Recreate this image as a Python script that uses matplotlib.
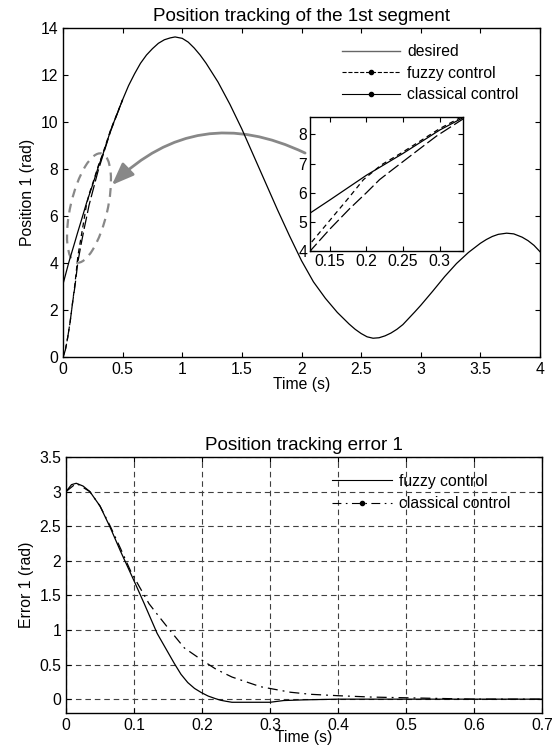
import matplotlib
matplotlib.use("Agg")
import matplotlib.pyplot as plt
from matplotlib.patches import Ellipse, FancyArrowPatch
from matplotlib.lines import Line2D
from matplotlib.transforms import IdentityTransform

plt.rcParams['font.family'] = ['Liberation Sans', 'DejaVu Sans']
plt.rcParams['font.size'] = 11.3

# desired trajectory of segment 1
t_des = [0, 0.05, 0.1, 0.123, 0.15, 0.2, 0.25, 0.3, 0.33, 0.4, 0.5, 0.55, 0.6, 0.65,
         0.7, 0.75, 0.8, 0.85, 0.9, 0.94, 1.0, 1.05, 1.1, 1.15, 1.2, 1.3, 1.4, 1.5,
         1.6, 1.7, 1.8, 1.9, 2.0, 2.1, 2.2, 2.3, 2.4, 2.45, 2.5, 2.55, 2.6, 2.65,
         2.7, 2.75, 2.8, 2.85, 2.9, 2.95, 3.0, 3.1, 3.2, 3.3, 3.4, 3.5, 3.55, 3.6,
         3.65, 3.72, 3.78, 3.85, 3.9, 3.95, 4.0]
pos_des = [3.1, 4.05, 4.9, 5.3, 5.75, 6.6, 7.35, 8.15, 8.55, 9.65, 10.95, 11.55, 12.05, 12.5,
           12.85, 13.12, 13.35, 13.5, 13.58, 13.62, 13.56, 13.4, 13.15, 12.85, 12.5, 11.7, 10.75, 9.7,
           8.55, 7.4, 6.25, 5.15, 4.1, 3.2, 2.5, 1.9, 1.4, 1.18, 1.0, 0.86, 0.8, 0.82,
           0.9, 1.02, 1.18, 1.38, 1.65, 1.92, 2.2, 2.8, 3.42, 3.98, 4.45, 4.84, 5.0, 5.13,
           5.22, 5.27, 5.24, 5.1, 4.95, 4.75, 4.48]

# controlled positions in the first half second
t_fuzzy = [0, 0.02, 0.04, 0.06, 0.08, 0.1, 0.125, 0.155, 0.175, 0.196, 0.22, 0.25, 0.3, 0.33, 0.4, 0.5]
pos_fuzzy = [0, 0.3, 0.85, 1.5, 2.3, 3.1, 4.3, 5.2, 5.8, 6.45, 6.95, 7.4, 8.2, 8.6, 9.67, 10.95]
t_classical = [0, 0.02, 0.04, 0.06, 0.08, 0.1, 0.125, 0.15, 0.177, 0.2, 0.218, 0.236, 0.275, 0.296, 0.33, 0.4, 0.5]
pos_classical = [0, 0.3, 0.85, 1.5, 2.3, 3.0, 4.05, 4.75, 5.45, 6.0, 6.45, 6.8, 7.55, 7.95, 8.5, 9.62, 10.95]

# tracking errors
t_err_fuzzy = [0, 0.008, 0.015, 0.025, 0.035, 0.05, 0.065, 0.08, 0.1, 0.115, 0.134, 0.159,
               0.169, 0.179, 0.189, 0.199, 0.209, 0.219, 0.227, 0.235, 0.244, 0.27, 0.3,
               0.32, 0.35, 0.4, 0.5, 0.6, 0.7]
err_fuzzy = [3.0, 3.1, 3.12, 3.08, 3.0, 2.79, 2.48, 2.14, 1.71, 1.38, 0.95, 0.52,
             0.36, 0.24, 0.155, 0.095, 0.045, 0.01, -0.015, -0.03, -0.045, -0.045, -0.045,
             -0.02, -0.01, 0.0, 0.0, 0.0, 0.0]
t_err_classical = [0, 0.015, 0.035, 0.05, 0.065, 0.08, 0.095, 0.107, 0.122, 0.137, 0.154, 0.174,
                   0.199, 0.221, 0.244, 0.265, 0.286, 0.308, 0.33, 0.36, 0.4, 0.45, 0.5, 0.6, 0.7]
err_classical = [3.0, 3.12, 3.0, 2.79, 2.5, 2.18, 1.85, 1.64, 1.38, 1.19, 0.98, 0.74,
                 0.57, 0.43, 0.32, 0.25, 0.18, 0.14, 0.10, 0.07, 0.05, 0.03, 0.02, 0.0, 0.0]

top_xticks = [0, 0.5, 1, 1.5, 2, 2.5, 3, 3.5, 4]
top_xlabels = ['0', '0.5', '1', '1.5', '2', '2.5', '3', '3.5', '4']
top_yticks = [0, 2, 4, 6, 8, 10, 12, 14]
inset_xticks = [0.15, 0.2, 0.25, 0.3]
inset_xlabels = ['0.15', '0.2', '0.25', '0.3']
inset_yticks = [4, 5, 6, 7, 8]
bot_xticks = [0, 0.1, 0.2, 0.3, 0.4, 0.5, 0.6, 0.7]
bot_xlabels = ['0', '0.1', '0.2', '0.3', '0.4', '0.5', '0.6', '0.7']
bot_yticks = [0, 0.5, 1, 1.5, 2, 2.5, 3, 3.5]
bot_ylabels = ['0', '0.5', '1', '1.5', '2', '2.5', '3', '3.5']

LW = 0.9


def matlab_ticks(ax):
    ax.tick_params(direction='in', top=True, right=True, length=3.5, width=0.8)
    for s in ax.spines.values():
        s.set_linewidth(1.0)


def draw_tracking(ax):
    ax.plot(t_des, pos_des, color='k', lw=LW)
    ax.plot(t_fuzzy, pos_fuzzy, color='k', lw=LW, dashes=(4, 3))
    ax.plot(t_classical, pos_classical, color='k', lw=LW, dashes=(10, 3))


fig = plt.figure(figsize=(5.55, 7.51), dpi=100)

# ---- top: position tracking
ax1 = fig.add_axes([0.1135, 0.5246, 0.8595, 0.4381])
draw_tracking(ax1)
ax1.set_xlim(0, 4)
ax1.set_ylim(0, 14)
ax1.set_xticks(top_xticks, top_xlabels)
ax1.set_yticks(top_yticks)
matlab_ticks(ax1)
ax1.set_title("Position tracking of the 1st segment", pad=5)
ax1.set_xlabel("Time (s)", labelpad=0)
ax1.set_ylabel("Position 1 (rad)")

handles = [Line2D([], [], color='0.4', lw=1),
           Line2D([], [], color='k', lw=0.8, ls='--', marker='.', ms=6),
           Line2D([], [], color='k', lw=0.8, ls='-', marker='.', ms=6)]
ax1.legend(handles, ['desired', 'fuzzy control', 'classical control'],
           loc='upper left', bbox_to_anchor=(0.585, 0.95), frameon=False,
           borderpad=0, borderaxespad=0, handlelength=3.7, handletextpad=0.45,
           labelspacing=0.4)

# zoomed region marker and arrow
cx, cy = ax1.transData.transform((0.218, 6.34))
ax1.add_patch(Ellipse((cx, cy), 112, 37, angle=77, transform=IdentityTransform(),
                      fill=False, ec='#888888', lw=1.6, ls=(0, (4, 3))))
ax1.add_patch(FancyArrowPatch((2.03, 8.68), (0.41, 7.32),
                              connectionstyle='arc3,rad=0.35',
                              arrowstyle='-|>,head_length=0.9,head_width=0.35',
                              mutation_scale=15, color='#888888', lw=2,
                              shrinkA=0, shrinkB=0))

# ---- inset
axi = fig.add_axes([0.5586, 0.6658, 0.2757, 0.1784])
draw_tracking(axi)
axi.set_xlim(0.123, 0.332)
axi.set_ylim(4, 8.6)
axi.set_xticks(inset_xticks, inset_xlabels)
axi.set_yticks(inset_yticks)
matlab_ticks(axi)
axi.tick_params(pad=2)

# ---- bottom: tracking error
ax2 = fig.add_axes([0.119, 0.0506, 0.8576, 0.3409])
ax2.plot(t_err_fuzzy, err_fuzzy, color='k', lw=LW)
ax2.plot(t_err_classical, err_classical, color='k', lw=LW, dashes=(8, 4, 1.5, 4))
ax2.set_xlim(0, 0.7)
ax2.set_ylim(-0.2, 3.5)
ax2.set_xticks(bot_xticks, bot_xlabels)
ax2.set_yticks(bot_yticks, bot_ylabels)
ax2.grid(True, color='0.25', lw=0.8, dashes=(5, 3.5))
matlab_ticks(ax2)
ax2.set_title("Position tracking error 1", pad=5)
ax2.set_xlabel("Time (s)", labelpad=-2)
ax2.set_ylabel("Error 1 (rad)")

handles2 = [Line2D([], [], color='k', lw=0.8),
            Line2D([], [], color='k', lw=0.8, dashes=(8, 4, 1.5, 4), marker='.', ms=6)]
ax2.legend(handles2, ['fuzzy control', 'classical control'],
           loc='upper left', bbox_to_anchor=(0.559, 0.935), frameon=False,
           borderpad=0, borderaxespad=0, handlelength=3.8, handletextpad=0.45,
           labelspacing=0.5)

fig.savefig("out.png", dpi=100)
